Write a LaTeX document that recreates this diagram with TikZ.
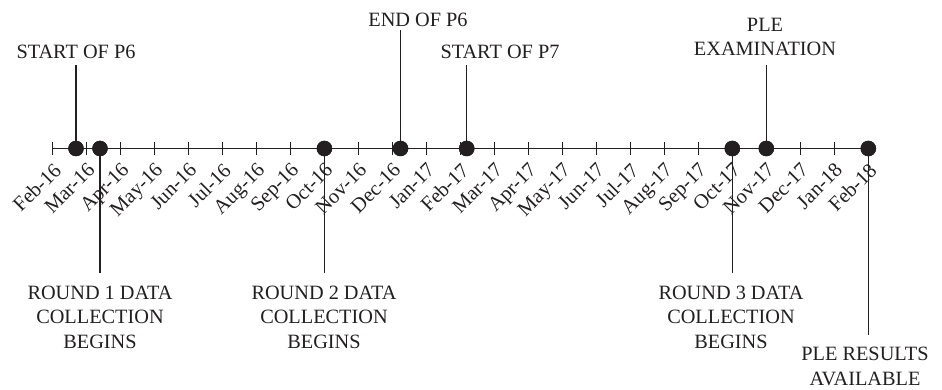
\documentclass[tikz,border=0pt]{standalone}
\usepackage{fontspec}
\setmainfont{Liberation Serif}
\definecolor{ink}{HTML}{231F20}
\begin{document}
\begin{tikzpicture}[x=1pt,y=-1pt,
  axisline/.style={draw=ink,line width=1.3pt},
  tickmark/.style={draw=ink,line width=1.1pt},
  leader/.style={draw=ink,line width=1.2pt},
  eventdot/.style={circle,fill=ink,inner sep=0pt,minimum size=15.5pt},
  monthlab/.style={rotate=45,anchor=north east,inner sep=0pt,text=ink,font=\fontsize{20.5}{24}\selectfont},
  evlab/.style={anchor=north,inner sep=0pt,align=center,text=ink,font=\fontsize{20.3}{24.5}\selectfont}]
\useasboundingbox (0,0) rectangle (942,390);
% axis
\coordinate (ax0) at (52.7,148.5);
\coordinate (ax1) at (868.3,148.5);
\path[axisline] (ax0) -- (ax1);
% ticks and month labels
\foreach \m [count=\i from 0] in {Feb-16,Mar-16,Apr-16,May-16,Jun-16,Jul-16,Aug-16,Sep-16,Oct-16,Nov-16,Dec-16,Jan-17,Feb-17,Mar-17,Apr-17,May-17,Jun-17,Jul-17,Aug-17,Sep-17,Oct-17,Nov-17,Dec-17,Jan-18,Feb-18}{
  \path[tickmark] (52.7+33.98*\i,142) -- (52.7+33.98*\i,155);
  \node[monthlab] (m\i) at (52.2+33.98*\i,161.5) {\m};
}
% event dots
\node[eventdot] (p6s) at (76,148.5) {};
\node[eventdot] (r1) at (100,148.5) {};
\node[eventdot] (r2) at (324.4,148.5) {};
\node[eventdot] (p6e) at (400.5,148.5) {};
\node[eventdot] (p7s) at (466.7,148.5) {};
\node[eventdot] (r3) at (732.3,148.5) {};
\node[eventdot] (ple) at (766.3,148.5) {};
\node[eventdot] (res) at (868.3,148.5) {};
% leader ends
\coordinate (p6sE) at (76,65);
\coordinate (r1E) at (100,273);
\coordinate (r2E) at (324.4,273);
\coordinate (p6eE) at (400.5,30.5);
\coordinate (p7sE) at (466.7,65);
\coordinate (r3E) at (732.3,273);
\coordinate (pleE) at (766.3,65);
\coordinate (resE) at (868.3,335);
\foreach \e in {p6s,r1,r2,p6e,p7s,r3,ple,res}{
  \path[leader] (\e.center) -- (\e E);
}
% redraw dots on top
\foreach \e in {p6s,r1,r2,p6e,p7s,r3,ple,res}{
  \fill[ink] (\e.center) circle (7.75pt);
}
% labels
\node[evlab] (p6sL) at (76,45) {START OF P6};
\node[evlab] (p6eL) at (418,13) {END OF P6};
\node[evlab] (p7sL) at (500,45) {START OF P7};
\node[evlab] (pleL) at (765,18) {PLE\\EXAMINATION};
\node[evlab] (r1L) at (100,285.5) {ROUND 1 DATA\\COLLECTION\\BEGINS};
\node[evlab] (r2L) at (324,285.5) {ROUND 2 DATA\\COLLECTION\\BEGINS};
\node[evlab] (r3L) at (731,285.5) {ROUND 3 DATA\\COLLECTION\\BEGINS};
\node[evlab] (resL) at (865,347) {PLE RESULTS\\AVAILABLE};
\end{tikzpicture}
\end{document}
